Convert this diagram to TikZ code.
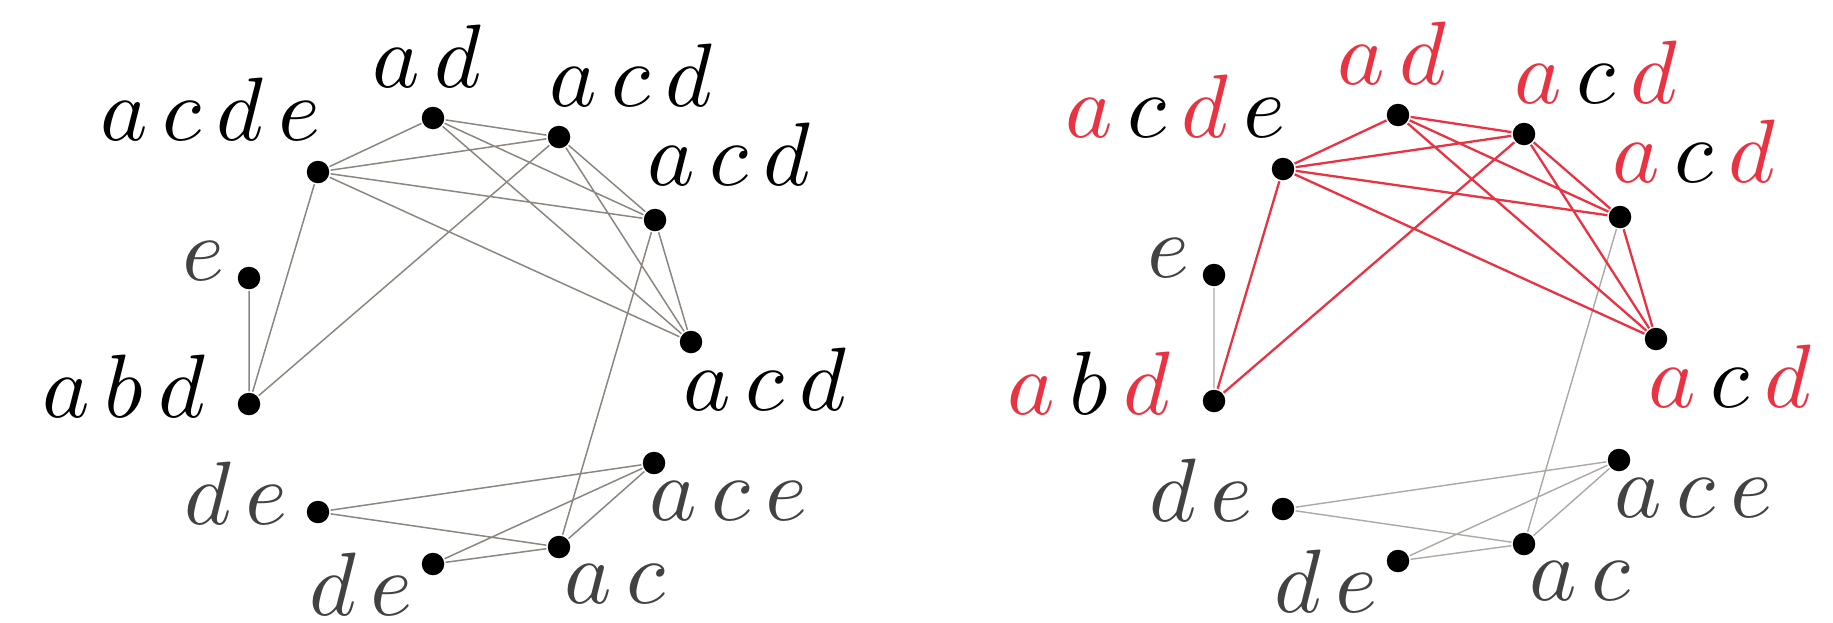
\documentclass[tikz,border=0pt]{standalone}
\definecolor{hred}{RGB}{234,51,66}
\definecolor{egray}{RGB}{140,134,127}
\definecolor{lgray}{RGB}{172,168,163}
\definecolor{tgray}{RGB}{66,66,66}
\newcommand{\glabtxt}[1]{\scalebox{9}{\fontsize{10}{12}\selectfont$#1$}}
\tikzset{
  dot/.style={circle,fill=black,minimum size=22.5pt,inner sep=0pt,outer sep=1.5pt},
  lab/.style={anchor=base west,inner sep=0pt,outer sep=0pt},
  glab/.style={lab,text=tgray},
  gedge/.style={draw=egray,line width=1.5pt},
  ledge/.style={draw=lgray,line width=1.4pt},
  redge/.style={draw=hred,line width=2.3pt},
}
\begin{document}
\begin{tikzpicture}[x=1pt,y=-1pt]
\useasboundingbox (0,0) rectangle (1833,622);
% ---------- left graph ----------
\node[dot] (acde) at (318,172) {};
\node[dot] (ad) at (433,118) {};
\node[dot] (acdA) at (559,137) {};
\node[dot] (acdB) at (655,220) {};
\node[dot] (acdC) at (691,342) {};
\node[dot] (e) at (249,278) {};
\node[dot] (abd) at (249,404) {};
\node[dot] (deA) at (318,512) {};
\node[dot] (ace) at (654,463) {};
\node[dot] (ac) at (559,547) {};
\node[dot] (deB) at (433,564) {};
\node[lab] (l-acde) at (100,140) {\glabtxt{a\,c\,d\,e}};
\node[lab] (l-ad) at (372,87) {\glabtxt{a\,d}};
\node[lab] (l-acdA) at (549,106) {\glabtxt{a\,c\,d}};
\node[lab] (l-acdB) at (647,185) {\glabtxt{a\,c\,d}};
\node[lab] (l-acdC) at (683,410) {\glabtxt{a\,c\,d}};
\node[glab] (l-e) at (182,280) {\glabtxt{e}};
\node[lab] (l-abd) at (42,417) {\glabtxt{a\,b\,d}};
\node[glab] (l-deA) at (184,524) {\glabtxt{d\,e}};
\node[glab] (l-deB) at (309,615) {\glabtxt{d\,e}};
\node[glab] (l-ace) at (649,520) {\glabtxt{a\,c\,e}};
\node[glab] (l-ac) at (564,603) {\glabtxt{a\,c}};
\path[gedge] (acde) -- (ad) (acde) -- (acdA) (acde) -- (acdB) (acde) -- (acdC)
  (ad) -- (acdA) (ad) -- (acdB) (ad) -- (acdC)
  (acdA) -- (acdB) (acdA) -- (acdC) (acdB) -- (acdC)
  (abd) -- (acde) (abd) -- (acdA) (e) -- (abd) (acdB) -- (ac)
  (deA) -- (ace) (deA) -- (ac) (deB) -- (ace) (deB) -- (ac) (ac) -- (ace);
% ---------- right graph ----------
\begin{scope}[shift={(965,-3)}]
\node[dot] (r-acde) at (318,172) {};
\node[dot] (r-ad) at (433,118) {};
\node[dot] (r-acdA) at (559,137) {};
\node[dot] (r-acdB) at (655,220) {};
\node[dot] (r-acdC) at (691,342) {};
\node[dot] (r-e) at (249,278) {};
\node[dot] (r-abd) at (249,404) {};
\node[dot] (r-deA) at (318,512) {};
\node[dot] (r-ace) at (654,463) {};
\node[dot] (r-ac) at (559,547) {};
\node[dot] (r-deB) at (433,564) {};
\node[lab] (rl-acde) at (100,140) {\glabtxt{\textcolor{hred}{a}\,c\,\textcolor{hred}{d}\,e}};
\node[lab] (rl-ad) at (372,87) {\glabtxt{\textcolor{hred}{a}\,\textcolor{hred}{d}}};
\node[lab] (rl-acdA) at (549,106) {\glabtxt{\textcolor{hred}{a}\,c\,\textcolor{hred}{d}}};
\node[lab] (rl-acdB) at (647,185) {\glabtxt{\textcolor{hred}{a}\,c\,\textcolor{hred}{d}}};
\node[lab] (rl-acdC) at (683,410) {\glabtxt{\textcolor{hred}{a}\,c\,\textcolor{hred}{d}}};
\node[glab] (rl-e) at (182,280) {\glabtxt{e}};
\node[lab] (rl-abd) at (42,417) {\glabtxt{\textcolor{hred}{a}\,b\,\textcolor{hred}{d}}};
\node[glab] (rl-deA) at (184,524) {\glabtxt{d\,e}};
\node[glab] (rl-deB) at (309,615) {\glabtxt{d\,e}};
\node[glab] (rl-ace) at (649,520) {\glabtxt{a\,c\,e}};
\node[glab] (rl-ac) at (564,603) {\glabtxt{a\,c}};
\path[ledge] (r-e) -- (r-abd) (r-acdB) -- (r-ac)
  (r-deA) -- (r-ace) (r-deA) -- (r-ac) (r-deB) -- (r-ace) (r-deB) -- (r-ac) (r-ac) -- (r-ace);
\path[redge] (r-acde) -- (r-ad) (r-acde) -- (r-acdA) (r-acde) -- (r-acdB) (r-acde) -- (r-acdC)
  (r-ad) -- (r-acdA) (r-ad) -- (r-acdB) (r-ad) -- (r-acdC)
  (r-acdA) -- (r-acdB) (r-acdA) -- (r-acdC) (r-acdB) -- (r-acdC)
  (r-abd) -- (r-acde) (r-abd) -- (r-acdA);
\end{scope}
\end{tikzpicture}
\end{document}
